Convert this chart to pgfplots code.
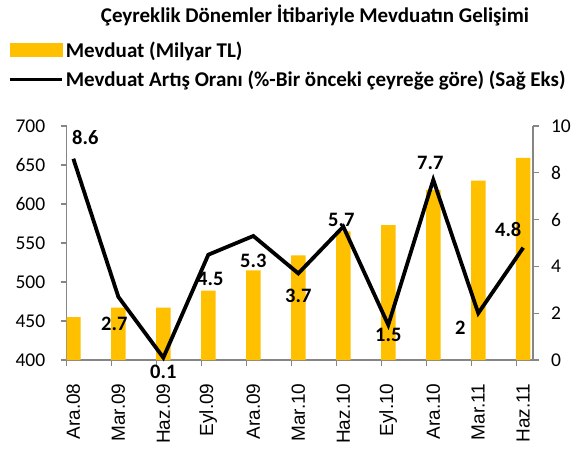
\documentclass[border=0pt]{standalone}
\usepackage{pgfplots}
\pgfplotsset{compat=1.18}
\usepackage{fontspec}
\setmainfont{Carlito}
\newfontfamily\arialf{Liberation Sans}
\definecolor{bargold}{HTML}{FFC000}
\definecolor{axgray}{HTML}{868686}

\pgfplotstableread{
x v
0 455
1 467
2 467
3 489
4 515
5 534
6 565
7 573
8 618
9 630
10 659
}\bars

\pgfplotstableread{
x r lab dx dy
0 8.6 8.6 12 21
1 2.7 2.7 -4 -27
2 0.1 0.1 0 -14
3 4.5 4.5 2 -24
4 5.3 5.3 0 -25
5 3.7 3.7 0 -22
6 5.7 5.7 -2 7
7 1.5 1.5 0 -10
8 7.7 7.7 -3 17
9 2 2 -18 -15
10 4.8 4.8 -15 18
}\rates

\begin{document}
\begin{tikzpicture}
\useasboundingbox (-66.7pt,-90pt) rectangle (510.3pt,360pt);
\begin{axis}[
  scale only axis, width=466.3pt, height=234pt,
  xmin=-0.148, xmax=10.217,
  ymin=400, ymax=700, ytick={400,450,...,700},
  axis y line*=left, axis x line*=bottom,
  axis line style={axgray, line width=1.2pt},
  tick align=outside, major tick length=6pt,
  every tick/.style={axgray, line width=1.2pt},
  /pgf/number format/assume math mode=true,
  yticklabel style={font=\fontsize{19.5}{19.5}\selectfont, xshift=-12pt},
  xtick={0,...,10},
  xticklabels={Ara.08,Mar.09,Haz.09,Eyl.09,Ara.09,Mar.10,Haz.10,Eyl.10,Ara.10,Mar.11,Haz.11},
  xticklabel style={rotate=90, anchor=east, font=\arialf\fontsize{19}{19}\selectfont},
  xticklabel shift=14pt,
  xtick style={draw=none},
  extra x ticks={-0.148,0.852,1.852,2.852,3.852,4.852,5.852,6.852,7.852,8.852,9.852},
  extra x tick labels={},
  extra x tick style={xtick style={draw=axgray}},
]
\addplot[ybar, bar width=14.5pt, fill=bargold, draw=none] table[x=x,y=v]{\bars};
\end{axis}
\begin{axis}[
  scale only axis, width=466.3pt, height=234pt,
  xmin=-0.148, xmax=10.217,
  ymin=0, ymax=10, ytick={0,2,...,10},
  axis y line*=right, axis x line=none,
  axis line style={axgray, line width=1.2pt},
  tick align=outside, major tick length=6pt,
  every tick/.style={axgray, line width=1.2pt},
  /pgf/number format/assume math mode=true,
  yticklabel style={font=\fontsize{19.5}{19.5}\selectfont, xshift=8.5pt},
  clip=false,
  legend style={at={(-0.1259,1.372)}, anchor=north west, draw=none, fill=none, inner sep=0pt,
    font=\bfseries\fontsize{21}{21}\selectfont, row sep=7pt,
    nodes={inner sep=2.5pt}},
  legend cell align=left,
]
\addlegendimage{legend image code/.code={\fill[bargold] (0pt,-6.5pt) rectangle (52pt,6.5pt);}}
\addlegendentry{Mevduat (Milyar TL)}
\addplot[black, line width=3.8pt,
  legend image code/.code={\draw[black,line width=3.2pt] (0pt,0pt)--(52pt,0pt);},
  nodes near coords, point meta=explicit symbolic,
  visualization depends on={\thisrow{dx} \as \ddx},
  visualization depends on={\thisrow{dy} \as \ddy},
  every node near coord/.style={anchor=center, xshift=\ddx pt, yshift=\ddy pt,
    font=\bfseries\fontsize{20.5}{20.5}\selectfont, text=black},
] table[x=x,y=r,meta=lab]{\rates};
\addlegendentry{Mevduat Artış Oranı (\%-Bir önceki çeyreğe göre) (Sağ Eks)}
\end{axis}
\node[font=\bfseries\fontsize{21}{21}\selectfont] at (248.3pt,345pt) {Çeyreklik Dönemler İtibariyle Mevduatın Gelişimi};
\end{tikzpicture}
\end{document}
